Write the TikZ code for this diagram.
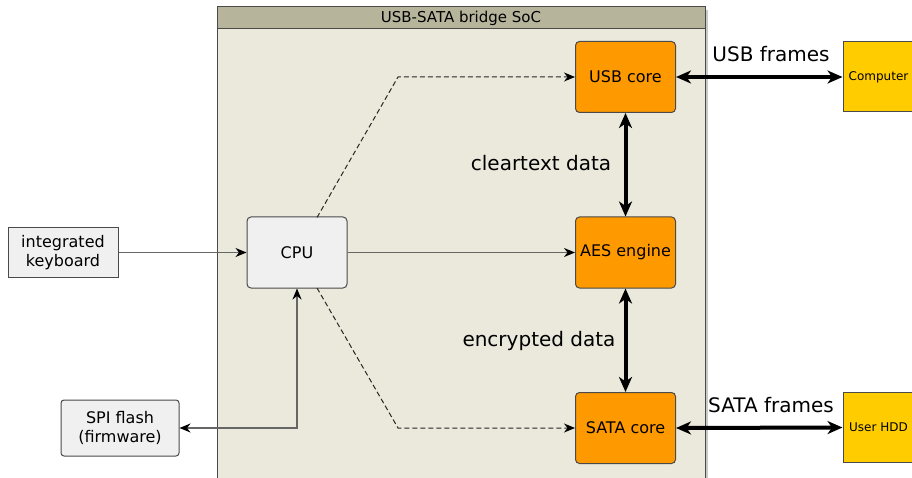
\documentclass[tikz,border=0pt]{standalone}
\usepackage{fontspec}
\setmainfont{DejaVu Sans}
\usetikzlibrary{arrows.meta}

\definecolor{socbody}{HTML}{EBE9DC}
\definecolor{sochead}{HTML}{B6B59C}
\definecolor{socshadow}{HTML}{C9C9C9}
\definecolor{coreorange}{HTML}{FF9900}
\definecolor{hostyellow}{HTML}{FFCC00}
\definecolor{boxgrey}{HTML}{F0F0F0}
\definecolor{edgegrey}{HTML}{4A4A4A}
\definecolor{wiregrey}{HTML}{666666}

\tikzset{
  thintip/.tip={Stealth[length=11pt,width=9pt,inset=3.5pt,color=black]},
  bigtip/.tip={Stealth[length=15pt,width=13pt,inset=4.5pt]},
  block/.style={draw=edgegrey, line width=1pt, rounded corners=4pt,
    minimum width=100pt, minimum height=71pt, inner sep=0pt, align=center,
    font=\fontsize{16}{19}\selectfont},
  core/.style={block, fill=coreorange},
  plainbox/.style={block, fill=boxgrey},
  host/.style={draw=edgegrey, line width=1pt, fill=hostyellow, inner sep=0pt,
    minimum width=71pt, minimum height=70pt, font=\fontsize{12}{14}\selectfont},
  wire/.style={draw=wiregrey, line width=1.2pt, -{thintip}},
  ctrl/.style={draw=black!85, line width=1pt, dash pattern=on 5pt off 3pt, -{thintip}},
  bus/.style={line width=4pt, {bigtip}-{bigtip}},
  caption/.style={font=\fontsize{20}{24}\selectfont, inner sep=0pt},
}

\begin{document}
\begin{tikzpicture}[x=1pt,y=-1pt]
\useasboundingbox (0,0) rectangle (912,478);

% SoC enclosure with its title bar
\fill[socshadow] (220,10) rectangle (708,495);
\fill[socbody] (217,7) rectangle (705,495);
\fill[sochead] (217,7) rectangle (705,28);
\draw[edgegrey, line width=1pt] (217,495) -- (217,7) -- (705,7) -- (705,495);
\draw[edgegrey, line width=0.6pt] (217,28) -- (705,28);
\node[font=\fontsize{15}{18}\selectfont, inner sep=0pt] (soctitle) at (461,18) {USB-SATA bridge SoC};

% blocks inside the SoC
\node[core] (usb) at (625.5,77) {USB core};
\node[core] (aes) at (625.5,252.5) {AES engine};
\node[core] (sata) at (625.5,428) {SATA core};
\node[plainbox] (cpu) at (297,252.5) {CPU};

% external parts
\node[plainbox, rounded corners=0pt, minimum width=110pt, minimum height=49pt] (kbd) at (63,252.5) {integrated\\keyboard};
\node[plainbox, rounded corners=3pt, minimum width=118pt, minimum height=56pt] (spi) at (120,428) {SPI flash\\(firmware)};
\node[host] (comp) at (878.5,77) {Computer};
\node[host] (hdd) at (878.5,427.5) {User HDD};

% control paths from the CPU
\coordinate (cputop) at (317,217.5);
\coordinate (cpubot) at (317,288);
\coordinate (ubend) at (398,77);
\coordinate (sbend) at (398,428);
\draw[ctrl] (cputop) -- (ubend) -- (usb.west);
\draw[ctrl] (cpubot) -- (sbend) -- (sata.west);
\draw[wire] (kbd.east) -- (cpu.west);
\draw[wire] (cpu.east) -- (aes.west);
\draw[wire, {thintip}-{thintip}] (cpu.south) |- (spi.east);

% data paths
\draw[bus] (usb.south) -- (aes.north);
\draw[bus] (aes.south) -- (sata.north);
\draw[bus] (usb.east) -- (comp.west);
\draw[bus] (sata.east) -- (hdd.west);

% data path labels
\node[caption] (lclear) at (541,163) {cleartext data};
\node[caption] (lenc) at (539,341) {encrypted data};
\node[caption] (lusb) at (771,54) {USB frames};
\node[caption] (lsata) at (771,405) {SATA frames};
\end{tikzpicture}
\end{document}
